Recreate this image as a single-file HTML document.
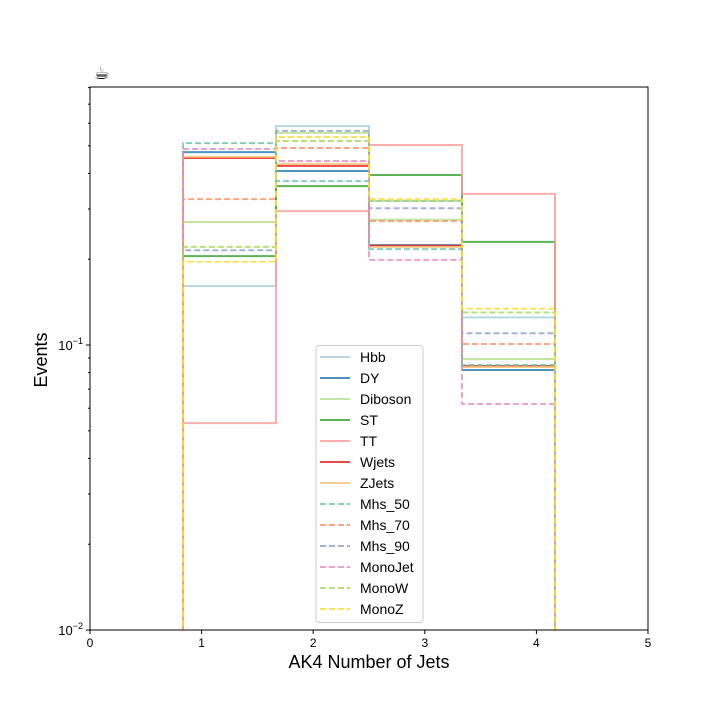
<!DOCTYPE html>
<html><head><meta charset="utf-8"><style>
body{margin:0;background:#fff}
svg text{font-family:"Liberation Sans","DejaVu Sans",sans-serif}
</style></head><body>
<svg id="chart" width="720" height="720" viewBox="0 0 720 720" xmlns="http://www.w3.org/2000/svg">
<rect width="720" height="720" fill="#fff"/>
<g id="marks"></g>
<g id="axes"></g>
<g id="legend"></g>
<text x="102" y="79" font-size="18" text-anchor="middle">☕</text>
</svg>
<script>
const binEdges = [0.8333, 1.6667, 2.5, 3.3333, 4.1667];
const seriesNames = ["Hbb","DY","Diboson","ST","TT","Wjets","ZJets","Mhs_50","Mhs_70","Mhs_90","MonoJet","MonoW","MonoZ"];
const seriesColors = ["#a6cee3","#1f78b4","#b2df8a","#33a02c","#fb9a99","#e31a1c","#fdbf6f","#66c2a5","#fc8d62","#8da0cb","#e78ac3","#a6d854","#ffd92f"];
const seriesDashed = [false,false,false,false,false,false,false,true,true,true,true,true,true];
const hbb     = [0.161, 0.587, 0.320, 0.125];
const dy      = [0.475, 0.408, 0.224, 0.0817];
const diboson = [0.270, 0.555, 0.275, 0.0893];
const st      = [0.205, 0.361, 0.395, 0.230];
const tt      = [0.0532, 0.295, 0.503, 0.339];
const wjets   = [0.453, 0.425, 0.223, 0.0844];
const zjets   = [0.457, 0.432, 0.221, 0.0837];
const mhs50   = [0.511, 0.376, 0.217, 0.0851];
const mhs70   = [0.325, 0.491, 0.272, 0.1008];
const mhs90   = [0.215, 0.564, 0.302, 0.110];
const monojet = [0.487, 0.442, 0.199, 0.0621];
const monow   = [0.221, 0.520, 0.320, 0.130];
const monoz   = [0.196, 0.537, 0.325, 0.134];
const seriesValues = [hbb,dy,diboson,st,tt,wjets,zjets,mhs50,mhs70,mhs90,monojet,monow,monoz];
const xTicks = [0,1,2,3,4,5];
const yMajorTicks = [0.01, 0.1];

const L=90,R=648,T=87,B=630;
const xS = v => L + (v-0)/(5-0)*(R-L);
const yS = v => 345 - (Math.log10(v)+1)*285;
const NS="http://www.w3.org/2000/svg";
function mk(tag, attrs, parent){const e=document.createElementNS(NS,tag);for(const k in attrs)e.setAttribute(k,attrs[k]);parent.appendChild(e);return e;}

const marks=document.getElementById('marks');
const clip=mk('clipPath',{id:'pc'},document.getElementById('chart'));
mk('rect',{x:L,y:T,width:R-L,height:B-T},clip);
marks.setAttribute('clip-path','url(#pc)');
seriesValues.forEach((vals,i)=>{
  let d=`M${xS(binEdges[0])},${B+5}`;
  vals.forEach((v,j)=>{d+=` L${xS(binEdges[j])},${yS(v)} L${xS(binEdges[j+1])},${yS(v)}`;});
  d+=` L${xS(binEdges[binEdges.length-1])},${B+5}`;
  const p=mk('path',{d:d,fill:'none',stroke:seriesColors[i],'stroke-width':2,'stroke-opacity':0.8},marks);
  if(seriesDashed[i]) p.setAttribute('stroke-dasharray','6,3');
  
  
});

const axes=document.getElementById('axes');
const frame=mk('rect',{x:L,y:T,width:R-L,height:B-T,fill:'none',stroke:'#000','stroke-width':1},axes);


xTicks.forEach(t=>{
  mk('line',{x1:xS(t),x2:xS(t),y1:B,y2:B+4,stroke:'#000'},axes);
  const tx=mk('text',{x:xS(t),y:B+17,'font-size':12,'text-anchor':'middle'},axes);
  tx.textContent=t;
  
  
});
yMajorTicks.forEach(t=>{
  mk('line',{x1:L-4,x2:L,y1:yS(t),y2:yS(t),stroke:'#000'},axes);
  const tx=mk('text',{x:L-7,y:yS(t)+5,'font-size':13,'text-anchor':'end'},axes);
  tx.innerHTML='10<tspan dy="-6" font-size="9">−'+Math.round(-Math.log10(t))+'</tspan>';
  
  
});
[0.01,0.1].forEach(base=>{for(let k=2;k<=9;k++){const v=base*k;const y=yS(v);if(y>=T)mk('line',{x1:L-2,x2:L,y1:y,y2:y,stroke:'#000'},axes);}});
const xl=mk('text',{x:369,y:668,'font-size':18,'text-anchor':'middle'},axes);
xl.textContent='AK4 Number of Jets';


const yl=mk('text',{x:47,y:360,'font-size':18,'text-anchor':'middle',transform:'rotate(-90 47 360)'},axes);
yl.textContent='Events';



const lg=document.getElementById('legend');


mk('rect',{x:316,y:345.5,width:107,height:277,rx:3,fill:'#fff','fill-opacity':0.8,stroke:'#ccc'},lg);
seriesNames.forEach((n,i)=>{
  const y=357+i*21;
  const g=mk('g',{},lg);
  
  
  const ln=mk('line',{x1:320,x2:350,y1:y,y2:y,stroke:seriesColors[i],'stroke-width':2,'stroke-opacity':0.8},g);
  if(seriesDashed[i]) ln.setAttribute('stroke-dasharray','6,3');
  const tx=mk('text',{x:360,y:y+5,'font-size':14},g);
  tx.textContent=n;
});
</script>
</body></html>
